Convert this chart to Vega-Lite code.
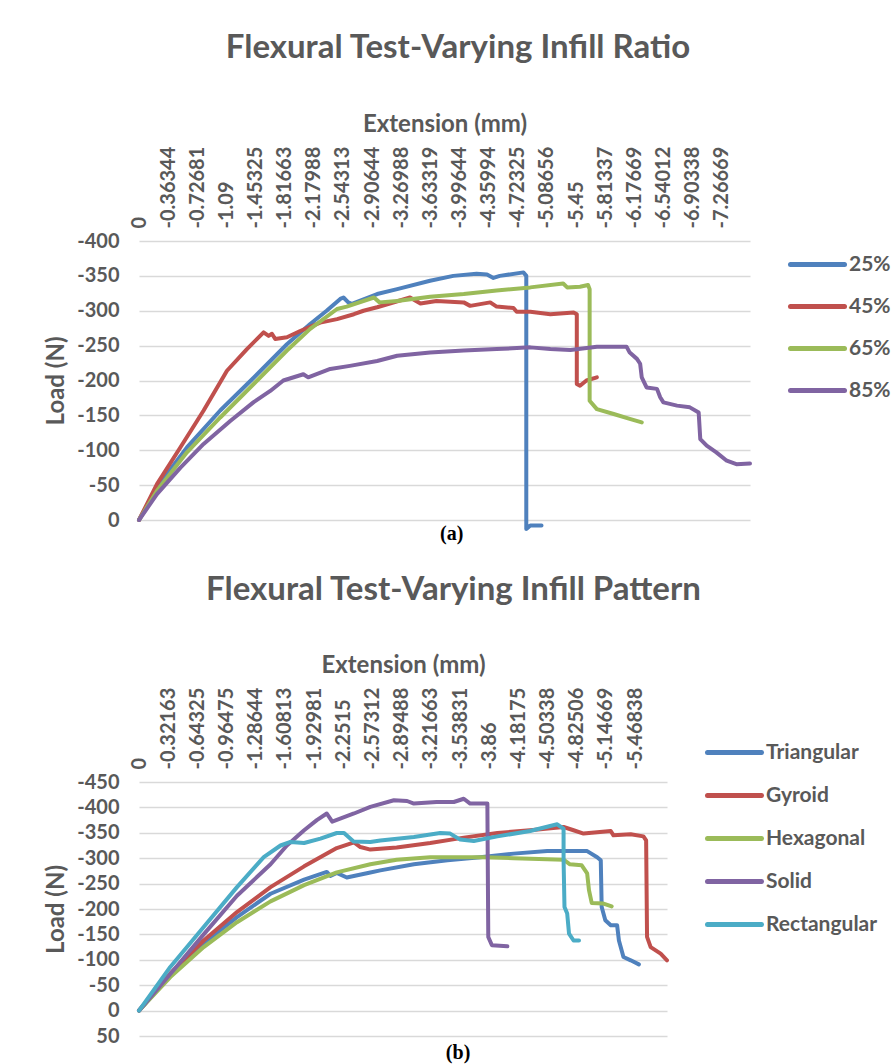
{
  "$schema": "https://vega.github.io/schema/vega-lite/v6.json",
  "background": "white",
  "padding": {"left": 44, "top": 32, "right": 0, "bottom": 0},
  "bounds": "flush",
  "spacing": 262,
  "resolve": {"scale": {"color": "independent"}, "legend": {"color": "independent"}},
  "datasets": {
    "ratio": [
      {"s": "25%", "x": 0, "y": 0}, {"s": "25%", "x": -0.224, "y": -47}, {"s": "25%", "x": -0.598, "y": -104}, {"s": "25%", "x": -1.013, "y": -157}, {"s": "25%", "x": -1.43, "y": -204}, {"s": "25%", "x": -1.845, "y": -252}, {"s": "25%", "x": -2.135, "y": -281}, {"s": "25%", "x": -2.34, "y": -300}, {"s": "25%", "x": -2.51, "y": -317}, {"s": "25%", "x": -2.55, "y": -319}, {"s": "25%", "x": -2.61, "y": -312}, {"s": "25%", "x": -2.655, "y": -310}, {"s": "25%", "x": -2.97, "y": -324}, {"s": "25%", "x": -3.22, "y": -331}, {"s": "25%", "x": -3.63, "y": -343}, {"s": "25%", "x": -3.92, "y": -350}, {"s": "25%", "x": -4.21, "y": -353}, {"s": "25%", "x": -4.34, "y": -352}, {"s": "25%", "x": -4.42, "y": -347}, {"s": "25%", "x": -4.5, "y": -350}, {"s": "25%", "x": -4.795, "y": -355}, {"s": "25%", "x": -4.83, "y": -350}, {"s": "25%", "x": -4.83, "y": 13}, {"s": "25%", "x": -4.88, "y": 8}, {"s": "25%", "x": -5.02, "y": 8},
      {"s": "45%", "x": 0, "y": 0}, {"s": "45%", "x": -0.224, "y": -51.5}, {"s": "45%", "x": -0.515, "y": -104}, {"s": "45%", "x": -0.806, "y": -157}, {"s": "45%", "x": -1.097, "y": -214}, {"s": "45%", "x": -1.346, "y": -245}, {"s": "45%", "x": -1.554, "y": -269}, {"s": "45%", "x": -1.617, "y": -264}, {"s": "45%", "x": -1.658, "y": -267}, {"s": "45%", "x": -1.699, "y": -259.5}, {"s": "45%", "x": -1.845, "y": -262}, {"s": "45%", "x": -2.01, "y": -271}, {"s": "45%", "x": -2.26, "y": -283}, {"s": "45%", "x": -2.47, "y": -288}, {"s": "45%", "x": -2.68, "y": -295}, {"s": "45%", "x": -2.8, "y": -300}, {"s": "45%", "x": -2.97, "y": -305}, {"s": "45%", "x": -3.38, "y": -319}, {"s": "45%", "x": -3.51, "y": -310.5}, {"s": "45%", "x": -3.71, "y": -314}, {"s": "45%", "x": -4.05, "y": -312}, {"s": "45%", "x": -4.13, "y": -307}, {"s": "45%", "x": -4.38, "y": -312}, {"s": "45%", "x": -4.46, "y": -306}, {"s": "45%", "x": -4.67, "y": -304}, {"s": "45%", "x": -4.71, "y": -298.6}, {"s": "45%", "x": -4.88, "y": -298.6}, {"s": "45%", "x": -5.13, "y": -295}, {"s": "45%", "x": -5.42, "y": -297.6}, {"s": "45%", "x": -5.46, "y": -295}, {"s": "45%", "x": -5.46, "y": -195}, {"s": "45%", "x": -5.5, "y": -192.5}, {"s": "45%", "x": -5.58, "y": -200}, {"s": "45%", "x": -5.71, "y": -204.5},
      {"s": "65%", "x": 0, "y": 0}, {"s": "65%", "x": -0.224, "y": -42}, {"s": "65%", "x": -0.598, "y": -97}, {"s": "65%", "x": -1.013, "y": -147}, {"s": "65%", "x": -1.43, "y": -195}, {"s": "65%", "x": -1.845, "y": -243}, {"s": "65%", "x": -2.135, "y": -274}, {"s": "65%", "x": -2.47, "y": -302.5}, {"s": "65%", "x": -2.59, "y": -306}, {"s": "65%", "x": -2.93, "y": -319}, {"s": "65%", "x": -3.0, "y": -312}, {"s": "65%", "x": -3.22, "y": -314}, {"s": "65%", "x": -3.63, "y": -320}, {"s": "65%", "x": -4.05, "y": -324}, {"s": "65%", "x": -4.46, "y": -329}, {"s": "65%", "x": -4.88, "y": -333.5}, {"s": "65%", "x": -5.29, "y": -339}, {"s": "65%", "x": -5.34, "y": -333.5}, {"s": "65%", "x": -5.5, "y": -334.5}, {"s": "65%", "x": -5.6, "y": -337}, {"s": "65%", "x": -5.62, "y": -331}, {"s": "65%", "x": -5.62, "y": -171}, {"s": "65%", "x": -5.71, "y": -159}, {"s": "65%", "x": -5.92, "y": -152}, {"s": "65%", "x": -6.12, "y": -145}, {"s": "65%", "x": -6.27, "y": -140},
      {"s": "85%", "x": 0, "y": 0}, {"s": "85%", "x": -0.224, "y": -37}, {"s": "85%", "x": -0.517, "y": -75}, {"s": "85%", "x": -0.806, "y": -109}, {"s": "85%", "x": -1.138, "y": -142}, {"s": "85%", "x": -1.43, "y": -169}, {"s": "85%", "x": -1.637, "y": -185}, {"s": "85%", "x": -1.8, "y": -200}, {"s": "85%", "x": -2.05, "y": -209}, {"s": "85%", "x": -2.11, "y": -204.5}, {"s": "85%", "x": -2.385, "y": -216.5}, {"s": "85%", "x": -2.63, "y": -221}, {"s": "85%", "x": -2.97, "y": -228}, {"s": "85%", "x": -3.22, "y": -235.5}, {"s": "85%", "x": -3.63, "y": -240}, {"s": "85%", "x": -4.05, "y": -243}, {"s": "85%", "x": -4.46, "y": -245}, {"s": "85%", "x": -4.88, "y": -247.5}, {"s": "85%", "x": -5.13, "y": -245}, {"s": "85%", "x": -5.38, "y": -243.7}, {"s": "85%", "x": -5.71, "y": -248.5}, {"s": "85%", "x": -6.08, "y": -248.5}, {"s": "85%", "x": -6.12, "y": -240}, {"s": "85%", "x": -6.21, "y": -231}, {"s": "85%", "x": -6.25, "y": -224}, {"s": "85%", "x": -6.27, "y": -204.5}, {"s": "85%", "x": -6.33, "y": -190}, {"s": "85%", "x": -6.46, "y": -188}, {"s": "85%", "x": -6.5, "y": -176}, {"s": "85%", "x": -6.54, "y": -168.6}, {"s": "85%", "x": -6.71, "y": -164}, {"s": "85%", "x": -6.87, "y": -161.5}, {"s": "85%", "x": -6.98, "y": -154}, {"s": "85%", "x": -7.0, "y": -116}, {"s": "85%", "x": -7.08, "y": -106.5}, {"s": "85%", "x": -7.2, "y": -97}, {"s": "85%", "x": -7.33, "y": -85}, {"s": "85%", "x": -7.45, "y": -80}, {"s": "85%", "x": -7.62, "y": -81}
    ],
    "pattern": [
      {"s": "Triangular", "x": 0, "y": 0}, {"s": "Triangular", "x": -0.345, "y": -69.5}, {"s": "Triangular", "x": -0.713, "y": -132}, {"s": "Triangular", "x": -1.08, "y": -184}, {"s": "Triangular", "x": -1.45, "y": -230}, {"s": "Triangular", "x": -1.82, "y": -258}, {"s": "Triangular", "x": -2.07, "y": -273}, {"s": "Triangular", "x": -2.11, "y": -265}, {"s": "Triangular", "x": -2.18, "y": -271}, {"s": "Triangular", "x": -2.29, "y": -262}, {"s": "Triangular", "x": -2.55, "y": -272}, {"s": "Triangular", "x": -2.66, "y": -276}, {"s": "Triangular", "x": -3.03, "y": -288}, {"s": "Triangular", "x": -3.4, "y": -296}, {"s": "Triangular", "x": -3.76, "y": -302}, {"s": "Triangular", "x": -4.13, "y": -309}, {"s": "Triangular", "x": -4.5, "y": -314}, {"s": "Triangular", "x": -4.94, "y": -314}, {"s": "Triangular", "x": -5.05, "y": -302}, {"s": "Triangular", "x": -5.09, "y": -296}, {"s": "Triangular", "x": -5.1, "y": -204}, {"s": "Triangular", "x": -5.14, "y": -178}, {"s": "Triangular", "x": -5.2, "y": -168}, {"s": "Triangular", "x": -5.27, "y": -168}, {"s": "Triangular", "x": -5.29, "y": -138}, {"s": "Triangular", "x": -5.34, "y": -105.5}, {"s": "Triangular", "x": -5.42, "y": -99}, {"s": "Triangular", "x": -5.51, "y": -91},
      {"s": "Gyroid", "x": 0, "y": 0}, {"s": "Gyroid", "x": -0.345, "y": -73}, {"s": "Gyroid", "x": -0.713, "y": -138}, {"s": "Gyroid", "x": -1.08, "y": -194}, {"s": "Gyroid", "x": -1.45, "y": -243}, {"s": "Gyroid", "x": -1.82, "y": -284}, {"s": "Gyroid", "x": -2.18, "y": -320}, {"s": "Gyroid", "x": -2.37, "y": -331}, {"s": "Gyroid", "x": -2.44, "y": -322}, {"s": "Gyroid", "x": -2.55, "y": -317}, {"s": "Gyroid", "x": -2.84, "y": -321}, {"s": "Gyroid", "x": -3.21, "y": -330}, {"s": "Gyroid", "x": -3.58, "y": -340.5}, {"s": "Gyroid", "x": -3.95, "y": -349.6}, {"s": "Gyroid", "x": -4.31, "y": -355}, {"s": "Gyroid", "x": -4.68, "y": -361.4}, {"s": "Gyroid", "x": -4.79, "y": -355}, {"s": "Gyroid", "x": -4.9, "y": -348.4}, {"s": "Gyroid", "x": -5.2, "y": -353.5}, {"s": "Gyroid", "x": -5.23, "y": -345}, {"s": "Gyroid", "x": -5.42, "y": -347}, {"s": "Gyroid", "x": -5.56, "y": -343}, {"s": "Gyroid", "x": -5.59, "y": -335}, {"s": "Gyroid", "x": -5.6, "y": -145}, {"s": "Gyroid", "x": -5.64, "y": -125}, {"s": "Gyroid", "x": -5.75, "y": -112}, {"s": "Gyroid", "x": -5.82, "y": -99},
      {"s": "Hexagonal", "x": 0, "y": 0}, {"s": "Hexagonal", "x": -0.345, "y": -66}, {"s": "Hexagonal", "x": -0.713, "y": -125}, {"s": "Hexagonal", "x": -1.08, "y": -174}, {"s": "Hexagonal", "x": -1.45, "y": -215}, {"s": "Hexagonal", "x": -1.82, "y": -247}, {"s": "Hexagonal", "x": -2.18, "y": -272}, {"s": "Hexagonal", "x": -2.55, "y": -288}, {"s": "Hexagonal", "x": -2.84, "y": -297}, {"s": "Hexagonal", "x": -3.21, "y": -302}, {"s": "Hexagonal", "x": -3.58, "y": -302}, {"s": "Hexagonal", "x": -3.8, "y": -302}, {"s": "Hexagonal", "x": -4.13, "y": -300}, {"s": "Hexagonal", "x": -4.5, "y": -298}, {"s": "Hexagonal", "x": -4.68, "y": -297}, {"s": "Hexagonal", "x": -4.75, "y": -288}, {"s": "Hexagonal", "x": -4.88, "y": -286}, {"s": "Hexagonal", "x": -4.94, "y": -270}, {"s": "Hexagonal", "x": -4.96, "y": -237}, {"s": "Hexagonal", "x": -4.99, "y": -212}, {"s": "Hexagonal", "x": -5.12, "y": -210.6}, {"s": "Hexagonal", "x": -5.21, "y": -205},
      {"s": "Solid", "x": 0, "y": 0}, {"s": "Solid", "x": -0.345, "y": -72}, {"s": "Solid", "x": -0.713, "y": -150}, {"s": "Solid", "x": -1.08, "y": -226}, {"s": "Solid", "x": -1.45, "y": -288}, {"s": "Solid", "x": -1.63, "y": -325}, {"s": "Solid", "x": -1.82, "y": -355}, {"s": "Solid", "x": -1.96, "y": -375}, {"s": "Solid", "x": -2.07, "y": -388}, {"s": "Solid", "x": -2.13, "y": -372}, {"s": "Solid", "x": -2.37, "y": -388}, {"s": "Solid", "x": -2.55, "y": -401}, {"s": "Solid", "x": -2.81, "y": -414}, {"s": "Solid", "x": -2.955, "y": -412.6}, {"s": "Solid", "x": -3.03, "y": -407.5}, {"s": "Solid", "x": -3.28, "y": -410.6}, {"s": "Solid", "x": -3.47, "y": -410.6}, {"s": "Solid", "x": -3.58, "y": -417}, {"s": "Solid", "x": -3.65, "y": -407.5}, {"s": "Solid", "x": -3.84, "y": -407.5}, {"s": "Solid", "x": -3.85, "y": -145}, {"s": "Solid", "x": -3.89, "y": -128.5}, {"s": "Solid", "x": -4.06, "y": -126.6},
      {"s": "Rectangular", "x": 0, "y": 0}, {"s": "Rectangular", "x": -0.345, "y": -86}, {"s": "Rectangular", "x": -0.713, "y": -164.6}, {"s": "Rectangular", "x": -1.08, "y": -243}, {"s": "Rectangular", "x": -1.375, "y": -302}, {"s": "Rectangular", "x": -1.56, "y": -325}, {"s": "Rectangular", "x": -1.67, "y": -332}, {"s": "Rectangular", "x": -1.82, "y": -330}, {"s": "Rectangular", "x": -2.0, "y": -338.6}, {"s": "Rectangular", "x": -2.18, "y": -349.6}, {"s": "Rectangular", "x": -2.26, "y": -349.6}, {"s": "Rectangular", "x": -2.365, "y": -333}, {"s": "Rectangular", "x": -2.55, "y": -332}, {"s": "Rectangular", "x": -2.66, "y": -335}, {"s": "Rectangular", "x": -3.03, "y": -341.7}, {"s": "Rectangular", "x": -3.32, "y": -349.6}, {"s": "Rectangular", "x": -3.43, "y": -348.4}, {"s": "Rectangular", "x": -3.54, "y": -336.6}, {"s": "Rectangular", "x": -3.69, "y": -333.9}, {"s": "Rectangular", "x": -3.95, "y": -343}, {"s": "Rectangular", "x": -4.31, "y": -353.5}, {"s": "Rectangular", "x": -4.61, "y": -366.7}, {"s": "Rectangular", "x": -4.68, "y": -358}, {"s": "Rectangular", "x": -4.68, "y": -296}, {"s": "Rectangular", "x": -4.69, "y": -204}, {"s": "Rectangular", "x": -4.72, "y": -191}, {"s": "Rectangular", "x": -4.74, "y": -151.6}, {"s": "Rectangular", "x": -4.79, "y": -138}, {"s": "Rectangular", "x": -4.85, "y": -138}
    ]
  },
  "config": {
    "font": "Lato",
    "view": {"stroke": null},
    "axis": {
      "labelFont": "Lato", "labelFontWeight": "bold", "labelColor": "#595959", "labelFontSize": 20,
      "titleFont": "Lato", "titleFontWeight": "bold", "titleColor": "#595959", "titleFontSize": 24,
      "domain": false, "ticks": false, "tickSize": 0,
      "gridColor": "#d9d9d9", "gridWidth": 1.5
    },
    "legend": {
      "labelFont": "Lato", "labelFontWeight": "bold", "labelColor": "#595959", "labelFontSize": 21,
      "symbolType": "M-1,0H3", "symbolSize": 729, "symbolStrokeWidth": 5, "labelOffset": 29, "padding": 0
    },
    "title": {"font": "Lato", "fontWeight": "bold", "color": "#595959", "fontSize": 33, "anchor": "middle", "frame": "group"}
  },
  "vconcat": [
    {
      "width": 611,
      "height": 279,
      "title": {"text": "Flexural Test-Varying Infill Ratio", "dx": 13.5, "offset": 47},
      "layer": [
        {
          "data": {"name": "ratio"},
          "mark": {"type": "line", "strokeWidth": 4, "strokeCap": "round", "strokeJoin": "round", "clip": false},
          "encoding": {
            "x": {"field": "x", "type": "quantitative",
              "scale": {"domain": [-7.62, 0], "reverse": true, "nice": false, "zero": false},
              "axis": {"orient": "top", "title": "Extension (mm)", "grid": false, "tickCount": 100,
                "values": [0, -0.36344, -0.72681, -1.09, -1.45325, -1.81663, -2.17988, -2.54313, -2.90644, -3.26988, -3.63319, -3.99644, -4.35994, -4.72325, -5.08656, -5.45, -5.81337, -6.17669, -6.54012, -6.90338, -7.26669],
                "labelExpr": "'' + datum.value", "labelAngle": -90, "labelAlign": "left", "labelBaseline": "middle",
                "labelOverlap": false, "labelFlush": false, "labelBound": false,
                "labelPadding": 13, "titlePadding": 10}},
            "y": {"field": "y", "type": "quantitative",
              "scale": {"domain": [-400, 0], "reverse": true, "nice": false, "zero": false},
              "axis": {"title": "Load (N)", "values": [-400, -350, -300, -250, -200, -150, -100, -50, 0], "tickCount": 100,
                "labelOverlap": false, "labelFlush": false, "labelBound": false,
                "labelExpr": "'' + datum.value", "labelPadding": 20, "titlePadding": 8}},
            "color": {"field": "s", "type": "nominal",
              "scale": {"domain": ["25%", "45%", "65%", "85%"], "range": ["#4F81BD", "#C0504D", "#9BBB59", "#8064A2"]},
              "legend": {"title": null, "orient": "none", "legendX": 649, "legendY": 7.5, "rowPadding": 16,
                "encode": {"symbols": {"update": {"strokeCap": {"value": "round"}}}}}},
            "order": {"value": null}
          }
        },
        {
          "data": {"values": [{}]},
          "mark": {"type": "text", "font": "Liberation Serif", "fontWeight": "bold", "fontSize": 20, "color": "black", "baseline": "middle", "clip": false},
          "encoding": {"x": {"datum": -3.9}, "y": {"datum": 19.6}, "text": {"value": "(a)"}}
        }
      ]
    },
    {
      "width": 528,
      "height": 254,
      "title": {"text": "Flexural Test-Varying Infill Pattern", "dx": 50.5, "offset": 46},
      "layer": [
        {
          "data": {"name": "pattern"},
          "mark": {"type": "line", "strokeWidth": 4, "strokeCap": "round", "strokeJoin": "round", "clip": false},
          "encoding": {
            "x": {"field": "x", "type": "quantitative",
              "scale": {"domain": [-5.82, 0], "reverse": true, "nice": false, "zero": false},
              "axis": {"orient": "top", "title": "Extension (mm)", "grid": false, "tickCount": 100,
                "values": [0, -0.32163, -0.64325, -0.96475, -1.28644, -1.60813, -1.92981, -2.2515, -2.57312, -2.89488, -3.21663, -3.53831, -3.86, -4.18175, -4.50338, -4.82506, -5.14669, -5.46838],
                "labelExpr": "'' + datum.value", "labelAngle": -90, "labelAlign": "left", "labelBaseline": "middle",
                "labelOverlap": false, "labelFlush": false, "labelBound": false,
                "labelPadding": 13, "titlePadding": 10}},
            "y": {"field": "y", "type": "quantitative",
              "scale": {"domain": [-450, 50], "reverse": true, "nice": false, "zero": false},
              "axis": {"title": "Load (N)", "values": [-450, -400, -350, -300, -250, -200, -150, -100, -50, 0, 50], "tickCount": 100,
                "labelOverlap": false, "labelFlush": false, "labelBound": false,
                "labelExpr": "'' + datum.value", "labelPadding": 20, "titlePadding": 8}},
            "color": {"field": "s", "type": "nominal",
              "scale": {"domain": ["Triangular", "Gyroid", "Hexagonal", "Solid", "Rectangular"], "range": ["#4F81BD", "#C0504D", "#9BBB59", "#8064A2", "#4BACC6"]},
              "legend": {"title": null, "orient": "none", "legendX": 566, "legendY": -45.5, "rowPadding": 17,
                "encode": {"symbols": {"update": {"strokeCap": {"value": "round"}}}}}},
            "order": {"value": null}
          }
        },
        {
          "data": {"values": [{}]},
          "mark": {"type": "text", "font": "Liberation Serif", "fontWeight": "bold", "fontSize": 20, "color": "black", "baseline": "middle", "clip": false},
          "encoding": {"x": {"datum": -3.517}, "y": {"datum": 84}, "text": {"value": "(b)"}}
        }
      ]
    }
  ]
}
